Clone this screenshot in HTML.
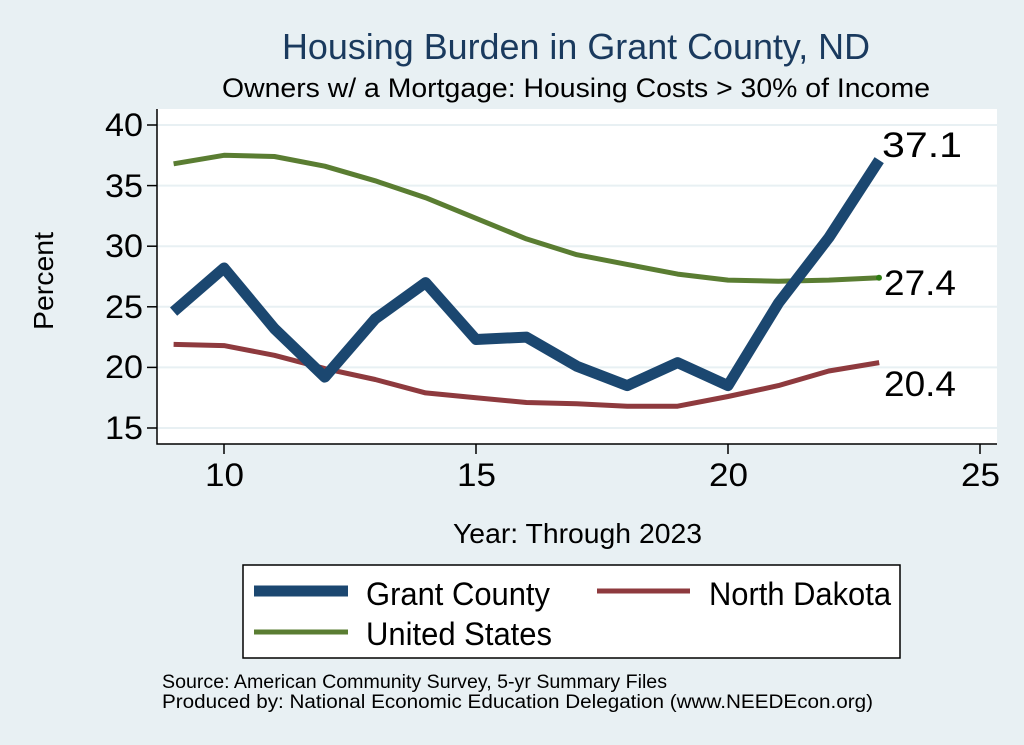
<!DOCTYPE html>
<html><head><meta charset="utf-8"><style>
body{margin:0;background:#e8f0f3;}
svg{display:block;font-family:"Liberation Sans",sans-serif;}
</style></head><body>
<svg width="1024" height="745" viewBox="0 0 1024 745">
<rect width="1024" height="745" fill="#e8f0f3"/>
<text x="282" y="59" font-size="36" fill="#1a3a5e" textLength="588" lengthAdjust="spacingAndGlyphs">Housing Burden in Grant County, ND</text>
<text x="222" y="97" font-size="27" fill="#000" textLength="708" lengthAdjust="spacingAndGlyphs">Owners w/ a Mortgage: Housing Costs &gt; 30% of Income</text>
<rect x="157" y="109" width="840" height="335" fill="#fff"/>
<g stroke="#e8f0f3" stroke-width="2">
<line x1="157" x2="997" y1="125" y2="125"/><line x1="157" x2="997" y1="185.6" y2="185.6"/>
<line x1="157" x2="997" y1="246.2" y2="246.2"/><line x1="157" x2="997" y1="306.8" y2="306.8"/>
<line x1="157" x2="997" y1="367.4" y2="367.4"/><line x1="157" x2="997" y1="428" y2="428"/>
</g>
<g stroke="#000" stroke-width="1.5" fill="none">
<polyline points="157,109 157,444 997,444"/>
<line x1="147" x2="157" y1="125" y2="125"/><line x1="147" x2="157" y1="185.6" y2="185.6"/>
<line x1="147" x2="157" y1="246.2" y2="246.2"/><line x1="147" x2="157" y1="306.8" y2="306.8"/>
<line x1="147" x2="157" y1="367.4" y2="367.4"/><line x1="147" x2="157" y1="428" y2="428"/>
<line x1="224" x2="224" y1="444" y2="454"/><line x1="476" x2="476" y1="444" y2="454"/>
<line x1="728" x2="728" y1="444" y2="454"/><line x1="980" x2="980" y1="444" y2="454"/>
</g>
<g font-size="32">
<text x="105" y="136" textLength="38" lengthAdjust="spacingAndGlyphs">40</text>
<text x="105" y="197" textLength="38" lengthAdjust="spacingAndGlyphs">35</text>
<text x="105" y="257" textLength="38" lengthAdjust="spacingAndGlyphs">30</text>
<text x="105" y="318" textLength="38" lengthAdjust="spacingAndGlyphs">25</text>
<text x="105" y="378" textLength="38" lengthAdjust="spacingAndGlyphs">20</text>
<text x="105" y="439" textLength="38" lengthAdjust="spacingAndGlyphs">15</text>
</g>
<g font-size="32">
<text x="205" y="486" textLength="39" lengthAdjust="spacingAndGlyphs">10</text>
<text x="457" y="486" textLength="39" lengthAdjust="spacingAndGlyphs">15</text>
<text x="709" y="486" textLength="39" lengthAdjust="spacingAndGlyphs">20</text>
<text x="961" y="486" textLength="39" lengthAdjust="spacingAndGlyphs">25</text>
</g>
<text transform="translate(53,330) rotate(-90)" font-size="28" textLength="98" lengthAdjust="spacingAndGlyphs">Percent</text>
<text x="453" y="543" font-size="28" textLength="249" lengthAdjust="spacingAndGlyphs">Year: Through 2023</text>
<g fill="none" stroke-linejoin="round">
<polyline stroke="#5a7d32" stroke-width="5" points="173.6,163.8 224,155.3 274.4,156.5 324.8,166.2 375.2,180.8 425.6,197.7 476,218.3 526.4,238.9 576.8,254.7 627.2,264.4 677.6,274.1 728,280.1 778.4,281.3 828.8,280.1 879.2,277.7"/>
<polyline stroke="#8e3a3e" stroke-width="5" points="173.6,344.4 224,345.6 274.4,355.3 324.8,368.6 375.2,379.5 425.6,392.9 476,397.7 526.4,402.5 576.8,403.8 627.2,406.2 677.6,406.2 728,396.5 778.4,385.6 828.8,371 879.2,362.6"/>
<polyline stroke="#1b4770" stroke-width="11" points="173.6,311.6 224,268 274.4,328.6 324.8,377.1 375.2,318.9 425.6,282.6 476,339.5 526.4,337.1 576.8,366.2 627.2,385.6 677.6,362.6 728,385.6 778.4,303.2 828.8,237.7 879.2,160.1"/>
</g>
<circle cx="879" cy="277.7" r="3" fill="#2e7d12"/>
<g font-size="35">
<text x="882" y="157" textLength="80" lengthAdjust="spacingAndGlyphs">37.1</text>
<text x="884" y="295" textLength="72" lengthAdjust="spacingAndGlyphs">27.4</text>
<text x="884" y="396" textLength="72" lengthAdjust="spacingAndGlyphs">20.4</text>
</g>
<rect x="243" y="565" width="657" height="93" fill="#fff" stroke="#000" stroke-width="1.5"/>
<line x1="254" x2="348" y1="591" y2="591" stroke="#1b4770" stroke-width="11"/>
<line x1="597" x2="690" y1="591" y2="591" stroke="#8e3a3e" stroke-width="5"/>
<line x1="254" x2="348" y1="632" y2="632" stroke="#5a7d32" stroke-width="5"/>
<g font-size="32">
<text x="366" y="605" textLength="184" lengthAdjust="spacingAndGlyphs">Grant County</text>
<text x="709" y="605" textLength="182" lengthAdjust="spacingAndGlyphs">North Dakota</text>
<text x="366" y="645" textLength="186" lengthAdjust="spacingAndGlyphs">United States</text>
</g>
<g font-size="19">
<text x="162" y="688" textLength="505" lengthAdjust="spacingAndGlyphs">Source: American Community Survey, 5-yr Summary Files</text>
<text x="162" y="708" textLength="711" lengthAdjust="spacingAndGlyphs">Produced by: National Economic Education Delegation (www.NEEDEcon.org)</text>
</g>
</svg>
</body></html>
